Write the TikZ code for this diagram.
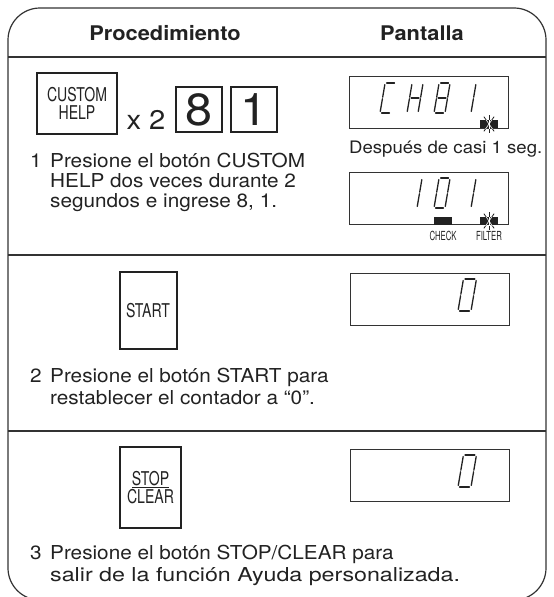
\documentclass[tikz,border=0pt]{standalone}
\usepackage{fontspec}
\usepackage{graphicx}
\setmainfont[FakeStretch=1.08]{TeX Gyre Heros}
\newfontfamily\condfont[FakeStretch=0.74]{TeX Gyre Heros}
\newfontfamily\tinyfont[FakeStretch=0.62]{TeX Gyre Heros}
\definecolor{ink}{HTML}{222222}
\definecolor{rule}{HTML}{333333}
\tikzset{
  frame/.style={draw=rule, line width=1.2pt},
  sepline/.style={draw=rule, line width=1.1pt},
  btn/.style={draw=ink, line width=2pt, inner sep=0pt, align=center, text=ink,
    font=\condfont\fontsize{19}{17.5}\selectfont},
  keybox/.style={draw=ink, line width=1.6pt, inner sep=0pt, minimum width=46pt, minimum height=45pt, text=ink, font=\fontsize{45}{45}\selectfont},
  disp/.style={draw=rule, line width=1pt, minimum width=159pt, minimum height=52pt, inner sep=0pt},
  body/.style={font=\fontsize{19.2}{20}\selectfont, inner sep=0pt, anchor=base west, text=ink},
  head/.style={font=\bfseries\fontsize{20.2}{20}\selectfont, inner sep=0pt, anchor=base, text=ink},
  segl/.style={line width=1.3pt, line cap=round, draw=ink},
  tag/.style={font=\tinyfont\fontsize{12.5}{12.5}\selectfont, inner sep=0pt, anchor=base, text=ink},
}
% seven segment pieces (local coords, bottom-left origin, y negative = up)
\def\sw{11}\def\sh{30}\def\sg{1.6}
\newcommand{\sA}{\draw[segl] (\sg,-\sh) -- (\sw-\sg,-\sh);}
\newcommand{\sB}{\draw[segl] (\sw,-\sh+\sg) -- (\sw,-\sh/2-\sg/2);}
\newcommand{\sC}{\draw[segl] (\sw,-\sh/2+\sg/2) -- (\sw,-\sg);}
\newcommand{\sD}{\draw[segl] (\sg,0) -- (\sw-\sg,0);}
\newcommand{\sE}{\draw[segl] (0,-\sh/2+\sg/2) -- (0,-\sg);}
\newcommand{\sF}{\draw[segl] (0,-\sh+\sg) -- (0,-\sh/2-\sg/2);}
\newcommand{\sG}{\draw[segl] (\sg,-\sh/2) -- (\sw-\sg,-\sh/2);}
\newcommand{\segdigit}[3]{\begin{scope}[shift={(#1,#2)}, xslant=0.17]#3\end{scope}}
% blinking marker
\newcommand{\starmark}[2]{%
  \begin{scope}[shift={(#1,#2)}]
    \foreach \a in {55,90,125,235,270,305}{\draw[ink, line width=0.8pt] (0,0) -- (\a:9);}
    \fill[ink] (-9,-4) rectangle (9,4);
    \begin{scope}
      \clip (-9,-4) rectangle (9,4);
      \foreach \a in {55,90,125,235,270,305}{\draw[white, line width=0.6pt] (0,0) -- (\a:9);}
    \end{scope}
  \end{scope}}
\begin{document}
\begin{tikzpicture}[x=1pt,y=-1pt]
\useasboundingbox (0,0) rectangle (554,597);
\begin{scope}
  \clip (0,0) rectangle (554,597);
  \draw[frame, rounded corners=32pt] (8,8) rectangle (546,600);
\end{scope}
\draw[sepline] (8,57) -- (546,57);
\draw[sepline] (8,255) -- (546,255);
\draw[sepline] (8,431) -- (546,431);

% headers
\node[head] (hproc) at (165,40) {Procedimiento};
\node[head] (hpant) at (422,40) {Pantalla};

% ---- row 1
\node[btn, minimum width=80pt, minimum height=61pt] (bcustom) at (77,103.5) {CUSTOM\\HELP};
\node[font=\fontsize{27}{27}\selectfont, anchor=base, inner sep=0pt, text=ink] (times) at (146,129) {x 2};
\node[keybox] (k8) at (199,109.5) {8};
\node[keybox] (k1) at (254,109.5) {1};

\node[body] (n1) at (30,167) {1};
\node[body] (t1a) at (50,167) {Presione el botón CUSTOM};
\node[body] (t1b) at (50,187) {HELP dos veces durante 2};
\node[body] (t1c) at (50,207) {segundos e ingrese 8, 1.};

\node[disp] (d1) at (429,102) {};
\segdigit{380}{113}{\sA\sD\sE\sF}
\segdigit{407}{113}{\sB\sC\sE\sF\sG}
\segdigit{434}{113}{\sA\sB\sC\sD\sE\sF\sG}
\segdigit{460}{113}{\sB\sC}
\starmark{489}{124}

\node[font=\fontsize{17.2}{17}\selectfont, inner sep=0pt, anchor=base west, text=ink] (after) at (349,153) {Después de casi 1 seg.};

\node[disp] (d2) at (429,198.5) {};
\segdigit{406}{208}{\sB\sC}
\segdigit{434}{208}{\sA\sB\sC\sD\sE\sF}
\segdigit{460}{208}{\sB\sC}
\fill[ink] (434,217) rectangle (452,225);
\starmark{489}{221}
\node[tag] (check) at (443,240) {CHECK};
\node[tag] (filter) at (489,240) {FILTER};

% ---- row 2
\node[btn, minimum width=57pt, minimum height=77pt] (bstart) at (148,310.5) {START};
\node[disp] (d3) at (430,299.5) {};
\def\sw{13}\def\sh{32}
\segdigit{458}{311}{\sA\sB\sC\sD\sE\sF}
\node[body] (n2) at (30,382) {2};
\node[body] (t2a) at (50,382) {Presione el botón START para};
\node[body] (t2b) at (50,404) {restablecer el contador a “0”.};

% ---- row 3
\node[btn, minimum width=61pt, minimum height=81pt] (bstop) at (150.5,487.5) {\underline{STOP}\\CLEAR};
\node[disp] (d4) at (430,475.5) {};
\segdigit{458}{487}{\sA\sB\sC\sD\sE\sF}
\node[body] (n3) at (30,559) {3};
\node[body] (t3a) at (50,559) {Presione el botón STOP/CLEAR para};
\node[body] (t3b) at (50,581) {\scalebox{1.12}[1]{salir de la función Ayuda personalizada.}};
\end{tikzpicture}
\end{document}
